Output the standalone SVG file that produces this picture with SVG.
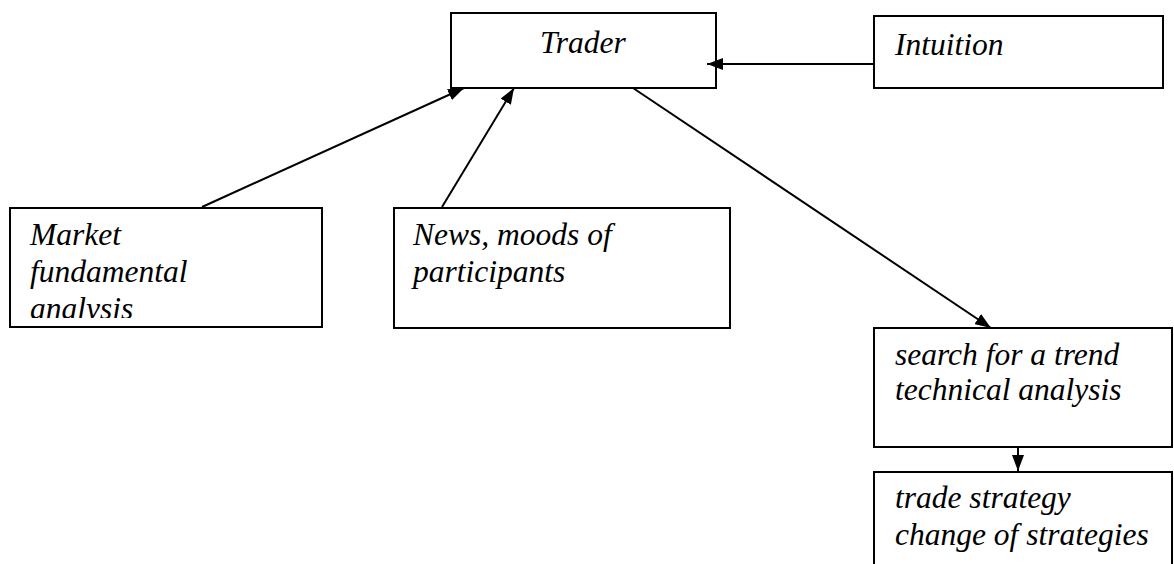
<svg xmlns="http://www.w3.org/2000/svg" width="1174" height="564" viewBox="0 0 1174 564">
<style>
.box{fill:#fff;stroke:#000;stroke-width:2}
.t{font-family:"Liberation Serif","Times New Roman",serif;font-style:italic;font-size:31.5px;fill:#000}
.c{stroke:#000;stroke-width:2;fill:none}
</style>
<defs>
<marker id="ah" viewBox="0 0 16 12" refX="16" refY="6" markerWidth="16" markerHeight="12" markerUnits="userSpaceOnUse" orient="auto">
<path d="M0,0 L16,6 L0,12 Z" fill="#000"/>
</marker>
<clipPath id="clipM"><rect x="11" y="209" width="310" height="109"/></clipPath>
</defs>
<g id="trader"><rect class="box" x="451" y="13" width="265" height="75"/><text class="t" x="540" y="53">Trader</text></g>
<g id="intuition"><rect class="box" x="874" y="16" width="289" height="72"/><text class="t" x="895" y="55">Intuition</text></g>
<g id="market"><rect class="box" x="10" y="208" width="312" height="119"/><g clip-path="url(#clipM)"><text class="t" x="30" y="245">Market</text><text class="t" x="30" y="282">fundamental</text><text class="t" x="30" y="319">analysis</text></g></g>
<g id="news"><rect class="box" x="394" y="208" width="336" height="120"/><text class="t" x="413" y="245">News, moods of</text><text class="t" x="413" y="282">participants</text></g>
<g id="search"><rect class="box" x="874" y="328" width="298" height="119"/><text class="t" x="895" y="365">search for a trend</text><text class="t" x="895" y="400">technical analysis</text></g>
<g id="trade"><rect class="box" x="874" y="472" width="298" height="100"/><text class="t" x="895" y="508">trade strategy</text><text class="t" x="895" y="545">change of strategies</text></g>
<g id="connectors">
<line class="c" x1="873" y1="64" x2="707" y2="64" marker-end="url(#ah)"/>
<line class="c" x1="202" y1="207" x2="464" y2="88" marker-end="url(#ah)"/>
<line class="c" x1="442" y1="207" x2="514" y2="88" marker-end="url(#ah)"/>
<line class="c" x1="633" y1="88" x2="991" y2="328" marker-end="url(#ah)"/>
<line class="c" x1="1018" y1="447" x2="1018" y2="471" marker-end="url(#ah)"/>
</g>
</svg>
